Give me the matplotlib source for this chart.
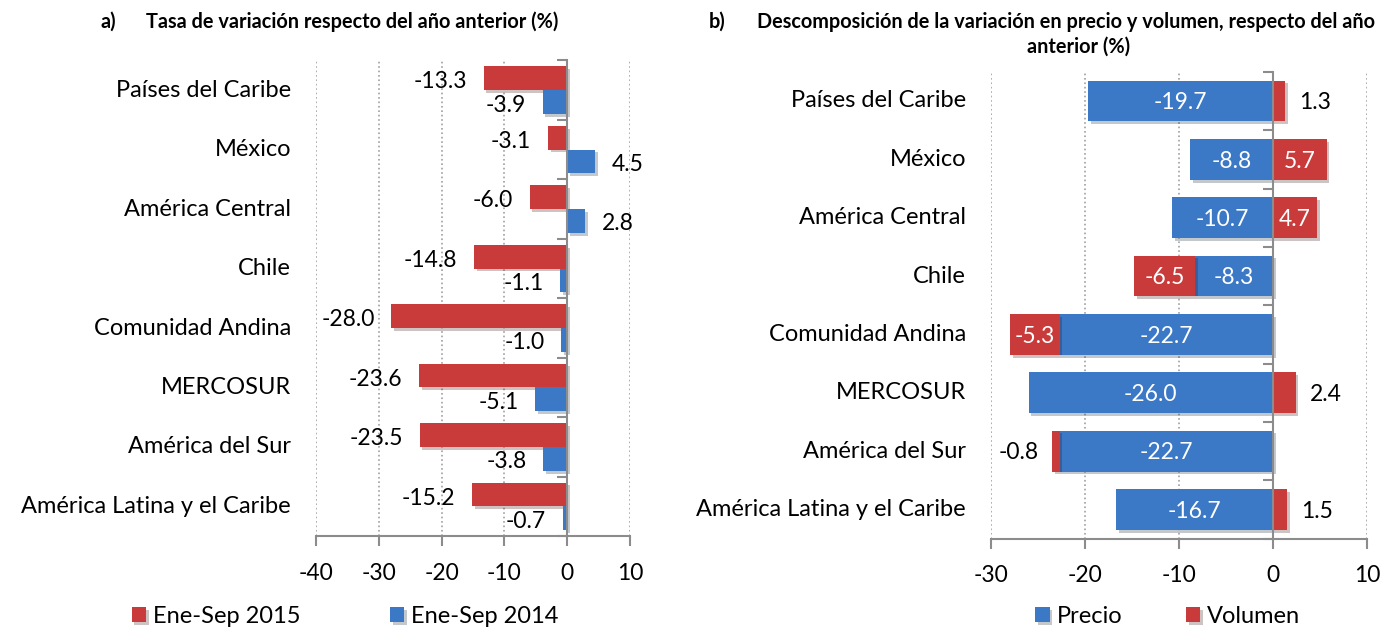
import numpy as np
import matplotlib
matplotlib.use('Agg')
import matplotlib.pyplot as plt
import matplotlib.patheffects as pe

plt.rcParams['font.family'] = ['Lato', 'DejaVu Sans']
plt.rcParams['axes.unicode_minus'] = False

# datos
categorias = ["Países del Caribe", "México", "América Central", "Chile",
              "Comunidad Andina", "MERCOSUR", "América del Sur",
              "América Latina y el Caribe"]
ene_sep_2015 = [-13.3, -3.1, -6.0, -14.8, -28.0, -23.6, -23.5, -15.2]
ene_sep_2014 = [-3.9, 4.5, 2.8, -1.1, -1.0, -5.1, -3.8, -0.7]
precio = [-19.7, -8.8, -10.7, -8.3, -22.7, -26.0, -22.7, -16.7]
volumen = [1.3, 5.7, 4.7, -6.5, -5.3, 2.4, -0.8, 1.5]

rojo = '#C93A3A'
azul = '#3B78C6'
gris = '#8C8C8C'
fs = 16.5
sombra = [pe.SimplePatchShadow(offset=(2, -2), alpha=0.25), pe.Normal()]

fig = plt.figure(figsize=(13.92, 6.3), dpi=100)
ax1 = fig.add_axes([0.227, 0.149, 0.2256, 0.755])
ax2 = fig.add_axes([0.712, 0.145, 0.270, 0.741])

n = len(categorias)
y = np.arange(n)


def estilo(ax, xmin, xmax):
    ax.set_xlim(xmin, xmax)
    ax.set_ylim(n - 0.5, -0.5)
    ax.set_xticks(np.arange(xmin, xmax + 1, 10))
    ax.xaxis.grid(True, linestyle=':', color='#A0A0A0', linewidth=1.2)
    ax.set_axisbelow(True)
    for s in ['top', 'right']:
        ax.spines[s].set_visible(False)
    ax.spines['left'].set_position(('data', 0))
    ax.spines['left'].set_color(gris)
    ax.spines['bottom'].set_color(gris)
    ax.spines['left'].set_linewidth(1.5)
    ax.spines['bottom'].set_linewidth(1.5)
    ax.set_yticks(np.arange(-0.5, n, 1))
    ax.set_yticklabels([])
    ax.tick_params(axis='y', length=7, width=1.5, color=gris, direction='out')
    ax.tick_params(axis='x', length=7, width=1.5, color=gris, labelsize=fs, pad=12)
    for i, c in enumerate(categorias):
        ax.annotate(c, (0, i), xycoords=ax.get_yaxis_transform(),
                    xytext=(-18, 0), textcoords='offset points',
                    ha='right', va='center', fontsize=17)


# panel a)
estilo(ax1, -40, 10)
h = 0.4
b1 = ax1.barh(y - h / 2, ene_sep_2015, height=h, color=rojo, label='Ene-Sep 2015')
b2 = ax1.barh(y + h / 2, ene_sep_2014, height=h, color=azul, label='Ene-Sep 2014')
for b in list(b1) + list(b2):
    b.set_path_effects(sombra)
for i in range(n):
    for v, yy in [(ene_sep_2015[i], y[i] - h / 2 + 0.06), (ene_sep_2014[i], y[i] + h / 2 + 0.05)]:
        if v < 0:
            ax1.annotate(f'{v:.1f}', (v, yy), xytext=(-12, 0), textcoords='offset points',
                         ha='right', va='center', fontsize=fs)
        else:
            ax1.annotate(f'{v:.1f}', (v, yy), xytext=(12, 0), textcoords='offset points',
                         ha='left', va='center', fontsize=fs)

# panel b)
estilo(ax2, -30, 10)
h2 = 0.7
p = ax2.barh(y, precio, height=h2, color=azul, label='Precio')
base = [pr if vo < 0 else 0 for pr, vo in zip(precio, volumen)]
vb = ax2.barh(y, volumen, left=base, height=h2, color=rojo, label='Volumen')
for b in list(p) + list(vb):
    b.set_path_effects(sombra)
for i in range(n):
    ax2.text(precio[i] / 2, y[i] + 0.03, f'{precio[i]:.1f}', ha='center', va='center',
             color='white', fontsize=fs)
    vo = volumen[i]
    if abs(vo) >= 3:
        ax2.text(base[i] + vo / 2, y[i] + 0.03, f'{vo:.1f}', ha='center', va='center',
                 color='white', fontsize=fs)
    elif vo > 0:
        ax2.annotate(f'{vo:.1f}', (vo, y[i] + 0.03), xytext=(10, 0), textcoords='offset points',
                     ha='left', va='center', fontsize=fs)
    else:
        ax2.annotate(f'{vo:.1f}', (base[i] + vo, y[i] + 0.03), xytext=(-10, 0),
                     textcoords='offset points', ha='right', va='center', fontsize=fs)

# titulos
tfs = 14.3
fig.text(0.072, 0.965, 'a)', fontsize=tfs, fontweight='bold', va='center')
fig.text(0.105, 0.965, 'Tasa de variación respecto del año anterior (%)',
         fontsize=tfs, fontweight='bold', va='center')
fig.text(0.509, 0.965, 'b)', fontsize=tfs, fontweight='bold', va='center')
fig.text(0.544, 0.965, 'Descomposición de la variación en precio y volumen, respecto del año',
         fontsize=tfs, fontweight='bold', va='center')
fig.text(0.775, 0.926, 'anterior (%)', fontsize=tfs, fontweight='bold',
         va='center', ha='center')

fig.legend(handles=[b1, b2], loc='center', bbox_to_anchor=(0.248, 0.022), ncol=2,
           frameon=False, fontsize=17, handlelength=0.6, handleheight=0.6,
           columnspacing=3.8, handletextpad=0.3, borderpad=0.1)
fig.legend(handles=[p, vb], loc='center', bbox_to_anchor=(0.839, 0.022), ncol=2,
           frameon=False, fontsize=17, handlelength=0.6, handleheight=0.6,
           columnspacing=2.7, handletextpad=0.3, borderpad=0.1)

fig.savefig('out.png', dpi=100)
